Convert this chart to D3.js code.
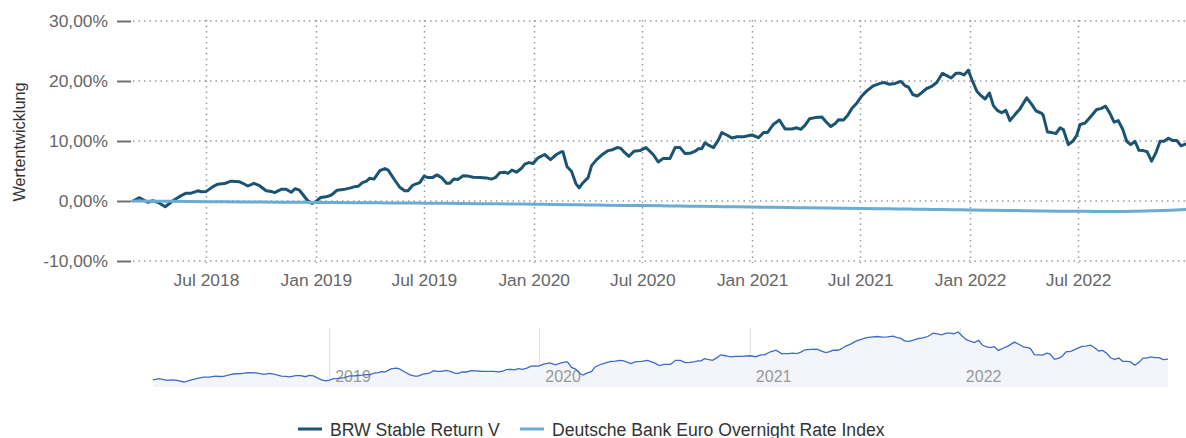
<!DOCTYPE html>
<html>
<head>
<meta charset="utf-8">
<script src="https://cdn.jsdelivr.net/npm/d3@7"></script>
<style>
  html, body { margin: 0; padding: 0; background: #fff; }
  svg { display: block; font-family: "Liberation Sans", Arial, sans-serif; }
</style>
</head>
<body>
<svg id="chart" width="1186" height="438"></svg>
<script>
// ---------------- DATA ----------------
const seriesNames = ["BRW Stable Return V", "Deutsche Bank Euro Overnight Rate Index"];

// BRW Stable Return V: [fractional year, performance %]
const brwValues = [
  [2018.161,0.0],[2018.191,0.55],[2018.229,-0.2],[2018.252,0.05],[2018.275,-0.2],[2018.309,-0.95],
  [2018.344,0.05],[2018.382,0.9],[2018.405,1.3],[2018.428,1.3],[2018.459,1.7],[2018.474,1.55],
  [2018.497,1.6],[2018.528,2.4],[2018.550,2.8],[2018.581,2.9],[2018.611,3.3],[2018.650,3.2],
  [2018.665,2.95],[2018.688,2.5],[2018.716,2.95],[2018.742,2.55],[2018.772,1.7],[2018.795,1.6],
  [2018.811,1.4],[2018.841,1.95],[2018.864,1.95],[2018.887,1.45],[2018.905,2.05],[2018.925,1.8],
  [2018.963,0.05],[2018.983,-0.4],[2019.001,-0.1],[2019.022,0.6],[2019.047,0.7],[2019.072,1.0],
  [2019.098,1.8],[2019.125,1.9],[2019.156,2.15],[2019.179,2.4],[2019.194,2.45],[2019.214,3.05],
  [2019.233,3.3],[2019.248,3.8],[2019.267,3.65],[2019.294,5.05],[2019.317,5.4],[2019.332,5.15],
  [2019.362,3.5],[2019.385,2.3],[2019.408,1.7],[2019.423,1.7],[2019.446,2.65],[2019.477,3.05],
  [2019.497,4.15],[2019.515,3.9],[2019.535,3.9],[2019.556,4.35],[2019.577,3.9],[2019.600,2.95],
  [2019.615,2.95],[2019.633,3.65],[2019.653,3.6],[2019.676,4.2],[2019.699,4.15],[2019.722,3.95],
  [2019.752,3.9],[2019.783,3.85],[2019.806,3.65],[2019.826,3.95],[2019.844,4.7],[2019.867,4.8],
  [2019.882,4.6],[2019.900,5.15],[2019.921,4.8],[2019.944,5.45],[2019.959,6.15],[2019.978,6.4],
  [2019.997,6.25],[2020.020,7.2],[2020.050,7.75],[2020.077,6.9],[2020.104,7.75],[2020.127,8.2],
  [2020.134,8.2],[2020.153,5.7],[2020.173,4.95],[2020.193,2.9],[2020.208,2.2],[2020.226,3.05],
  [2020.249,3.9],[2020.265,5.9],[2020.288,6.9],[2020.311,7.65],[2020.341,8.4],[2020.361,8.55],
  [2020.382,8.9],[2020.398,8.8],[2020.417,8.05],[2020.436,7.45],[2020.459,8.3],[2020.486,8.4],
  [2020.514,8.9],[2020.547,7.75],[2020.570,6.5],[2020.593,7.1],[2020.624,7.1],[2020.647,8.9],
  [2020.670,8.9],[2020.693,7.9],[2020.716,7.95],[2020.739,8.3],[2020.754,8.7],[2020.769,8.7],
  [2020.784,9.7],[2020.800,9.3],[2020.823,8.9],[2020.845,10.15],[2020.861,11.4],[2020.884,11.0],
  [2020.907,10.5],[2020.930,10.7],[2020.960,10.7],[2020.999,11.0],[2021.029,10.55],[2021.052,11.4],
  [2021.070,11.4],[2021.098,12.8],[2021.125,13.5],[2021.151,12.0],[2021.182,12.0],[2021.205,12.2],
  [2021.223,11.95],[2021.243,12.65],[2021.263,13.7],[2021.289,13.9],[2021.320,14.0],[2021.339,13.2],
  [2021.361,12.4],[2021.381,12.9],[2021.396,13.55],[2021.419,13.5],[2021.437,14.2],[2021.457,15.4],
  [2021.480,16.3],[2021.503,17.5],[2021.526,18.35],[2021.556,19.2],[2021.587,19.6],[2021.606,19.75],
  [2021.630,19.45],[2021.656,19.6],[2021.682,19.95],[2021.702,19.2],[2021.717,19.0],[2021.737,17.75],
  [2021.758,17.5],[2021.778,18.05],[2021.801,18.75],[2021.824,19.1],[2021.847,19.75],[2021.873,21.3],
  [2021.893,20.9],[2021.913,20.5],[2021.936,21.3],[2021.954,21.3],[2021.972,21.0],[2021.992,21.8],
  [2022.008,20.25],[2022.031,18.3],[2022.049,17.6],[2022.069,17.0],[2022.089,18.0],[2022.107,15.9],
  [2022.125,15.1],[2022.145,14.7],[2022.164,15.1],[2022.183,13.4],[2022.206,14.4],[2022.229,15.35],
  [2022.260,17.2],[2022.283,16.1],[2022.303,15.0],[2022.329,14.6],[2022.336,14.25],[2022.355,11.5],
  [2022.375,11.4],[2022.394,11.25],[2022.413,12.2],[2022.428,11.9],[2022.451,9.4],[2022.471,9.95],
  [2022.489,10.9],[2022.505,12.75],[2022.528,13.0],[2022.554,14.1],[2022.581,15.25],[2022.600,15.4],
  [2022.622,15.8],[2022.642,14.6],[2022.661,13.15],[2022.680,13.4],[2022.700,12.0],[2022.719,9.95],
  [2022.737,9.4],[2022.757,9.95],[2022.775,8.45],[2022.795,8.4],[2022.813,8.2],[2022.833,6.65],
  [2022.853,8.05],[2022.872,9.95],[2022.890,9.95],[2022.910,10.45],[2022.928,10.1],[2022.948,10.1],
  [2022.968,9.2],[2022.991,9.5]
];

// Deutsche Bank Euro Overnight Rate Index: [fractional year, performance %]
const benchValues = [
  [2018.161,0.00],[2018.25,-0.03],[2018.33,-0.06],[2018.42,-0.09],[2018.50,-0.12],[2018.58,-0.14],
  [2018.67,-0.16],[2018.75,-0.18],[2018.83,-0.20],[2018.92,-0.22],[2019.00,-0.24],[2019.08,-0.26],
  [2019.17,-0.28],[2019.25,-0.30],[2019.33,-0.32],[2019.42,-0.34],[2019.50,-0.36],[2019.58,-0.38],
  [2019.67,-0.41],[2019.75,-0.44],[2019.83,-0.47],[2019.92,-0.50],[2020.00,-0.53],[2020.08,-0.57],
  [2020.17,-0.61],[2020.25,-0.65],[2020.33,-0.69],[2020.42,-0.73],[2020.50,-0.77],[2020.58,-0.81],
  [2020.67,-0.85],[2020.75,-0.89],[2020.83,-0.93],[2020.92,-0.97],[2021.00,-1.01],[2021.08,-1.05],
  [2021.17,-1.09],[2021.25,-1.13],[2021.33,-1.17],[2021.42,-1.21],[2021.50,-1.25],[2021.58,-1.29],
  [2021.67,-1.33],[2021.75,-1.37],[2021.83,-1.41],[2021.92,-1.45],[2022.00,-1.49],[2022.08,-1.53],
  [2022.17,-1.57],[2022.25,-1.61],[2022.33,-1.65],[2022.42,-1.69],[2022.50,-1.72],[2022.58,-1.74],
  [2022.67,-1.75],[2022.75,-1.72],[2022.83,-1.64],[2022.92,-1.53],[2022.991,-1.42]
];

const xTickDates  = ["2018-07-01","2019-01-01","2019-07-01","2020-01-01","2020-07-01","2021-01-01","2021-07-01","2022-01-01","2022-07-01"];
const xTickLabels = ["Jul 2018","Jan 2019","Jul 2019","Jan 2020","Jul 2020","Jan 2021","Jul 2021","Jan 2022","Jul 2022"];
const yTicks      = [-10, 0, 10, 20, 30];
const yTickLabels = ["-10,00%","0,00%","10,00%","20,00%","30,00%"];
const navTickDates  = ["2019-01-01","2020-01-01","2021-01-01","2022-01-01"];
const navTickLabels = ["2019","2020","2021","2022"];
const yAxisTitle = "Wertentwicklung";

// ---------------- HELPERS ----------------
function toDate(t) {
  const y = Math.floor(t);
  const s = new Date(y, 0, 1).getTime(), e = new Date(y + 1, 0, 1).getTime();
  return new Date(s + (t - y) * (e - s));
}
const parseDay = d3.timeParse("%Y-%m-%d");
const brw = brwValues.map(d => ({date: toDate(d[0]), v: d[1]}));
const bench = benchValues.map(d => ({date: toDate(d[0]), v: d[1]}));

const colDark = "#1b5473";
const colLight = "#6aacd4";

const svg = d3.select("#chart");

// ---------------- MAIN CHART ----------------
const x = d3.scaleTime()
  .domain([toDate(brwValues[0][0]), toDate(brwValues[brwValues.length - 1][0])])
  .range([133, 1186]);
const y = d3.scaleLinear().domain([-10, 30]).range([261, 21]);

// horizontal dotted grid
svg.append("g").selectAll("line").data(yTicks).join("line")
  .attr("x1", 133).attr("x2", 1186)
  .attr("y1", d => y(d)).attr("y2", d => y(d))
  .attr("stroke", "#9a9a9a").attr("stroke-width", 1.5)
  .attr("stroke-dasharray", "1.5,4");

// vertical dotted grid
svg.append("g").selectAll("line").data(xTickDates).join("line")
  .attr("x1", d => Math.round(x(parseDay(d))) + 0.5).attr("x2", d => Math.round(x(parseDay(d))) + 0.5)
  .attr("y1", 20).attr("y2", 263)
  .attr("stroke", "#9a9a9a").attr("stroke-width", 1.5)
  .attr("stroke-dasharray", "1.5,4");

// y-axis via d3.axisLeft
const yAxis = d3.axisLeft(y)
  .tickValues(yTicks)
  .tickFormat((d, i) => yTickLabels[i])
  .tickSize(14).tickPadding(9);
const yg = svg.append("g").attr("transform", "translate(131,0)").call(yAxis);
yg.select(".domain").remove();
yg.selectAll(".tick line").attr("stroke", "#707070").attr("stroke-width", 2);
yg.selectAll(".tick text")
  .attr("fill", "#666").style("font-size", "17.4px")
  .style("font-family", "'Liberation Sans', Arial, sans-serif");

// x-axis via d3.axisBottom
const xAxis = d3.axisBottom(x)
  .tickValues(xTickDates.map(parseDay))
  .tickFormat((d, i) => xTickLabels[i])
  .tickSize(0).tickPadding(0);
const xg = svg.append("g").attr("transform", "translate(0,272)").call(xAxis);
xg.select(".domain").remove();
xg.selectAll(".tick text")
  .attr("fill", "#666").attr("dy", "0.8em").style("font-size", "17.4px")
  .style("font-family", "'Liberation Sans', Arial, sans-serif");

// y-axis title
svg.append("text")
  .attr("transform", "translate(25,142) rotate(-90)")
  .attr("text-anchor", "middle")
  .attr("fill", "#333").style("font-size", "16.3px")
  .text(yAxisTitle);

const line = d3.line().x(d => x(d.date)).y(d => y(d.v));
svg.append("path").datum(brw)
  .attr("d", line).attr("fill", "none")
  .attr("stroke", colDark).attr("stroke-width", 3)
  .attr("stroke-linejoin", "round").attr("stroke-linecap", "round");
svg.append("path").datum(bench)
  .attr("d", line.curve(d3.curveMonotoneX)).attr("fill", "none")
  .attr("stroke", colLight).attr("stroke-width", 3)
  .attr("stroke-linejoin", "round").attr("stroke-linecap", "round");

// ---------------- NAVIGATOR ----------------
const nx = d3.scaleTime().domain(x.domain()).range([153, 1168]);
const ext = d3.extent(brw, d => d.v);
const ny = d3.scaleLinear().domain(ext).range([382, 332]);
const navBottom = 387;

svg.append("g").selectAll("line").data(navTickDates).join("line")
  .attr("x1", d => Math.round(nx(parseDay(d))) + 0.5).attr("x2", d => Math.round(nx(parseDay(d))) + 0.5)
  .attr("y1", 328).attr("y2", navBottom)
  .attr("stroke", "#e3e3e3").attr("stroke-width", 1.2);

svg.append("path").datum(brw)
  .attr("d", d3.area().x(d => nx(d.date)).y0(navBottom).y1(d => ny(d.v)))
  .attr("fill", "#f3f5fa");

svg.append("g").selectAll("text").data(navTickDates).join("text")
  .attr("x", d => nx(parseDay(d)) + 6).attr("y", 382)
  .attr("fill", "#999").style("font-size", "16px")
  .text((d, i) => navTickLabels[i]);

svg.append("path").datum(brw)
  .attr("d", d3.line().x(d => nx(d.date)).y(d => ny(d.v)))
  .attr("fill", "none").attr("stroke", "#3c6cc4").attr("stroke-width", 1.3);

// ---------------- LEGEND ----------------
const legendItems = [
  {name: seriesNames[0], color: colDark, x: 298},
  {name: seriesNames[1], color: colLight, x: 520}
];
const lg = svg.append("g");
legendItems.forEach(it => {
  lg.append("line").attr("x1", it.x).attr("x2", it.x + 24).attr("y1", 429).attr("y2", 429)
    .attr("stroke", it.color).attr("stroke-width", 3);
  lg.append("text").attr("x", it.x + 32).attr("y", 435.5)
    .attr("fill", "#333").style("font-size", "17.6px").text(it.name);
});
</script>
</body>
</html>
